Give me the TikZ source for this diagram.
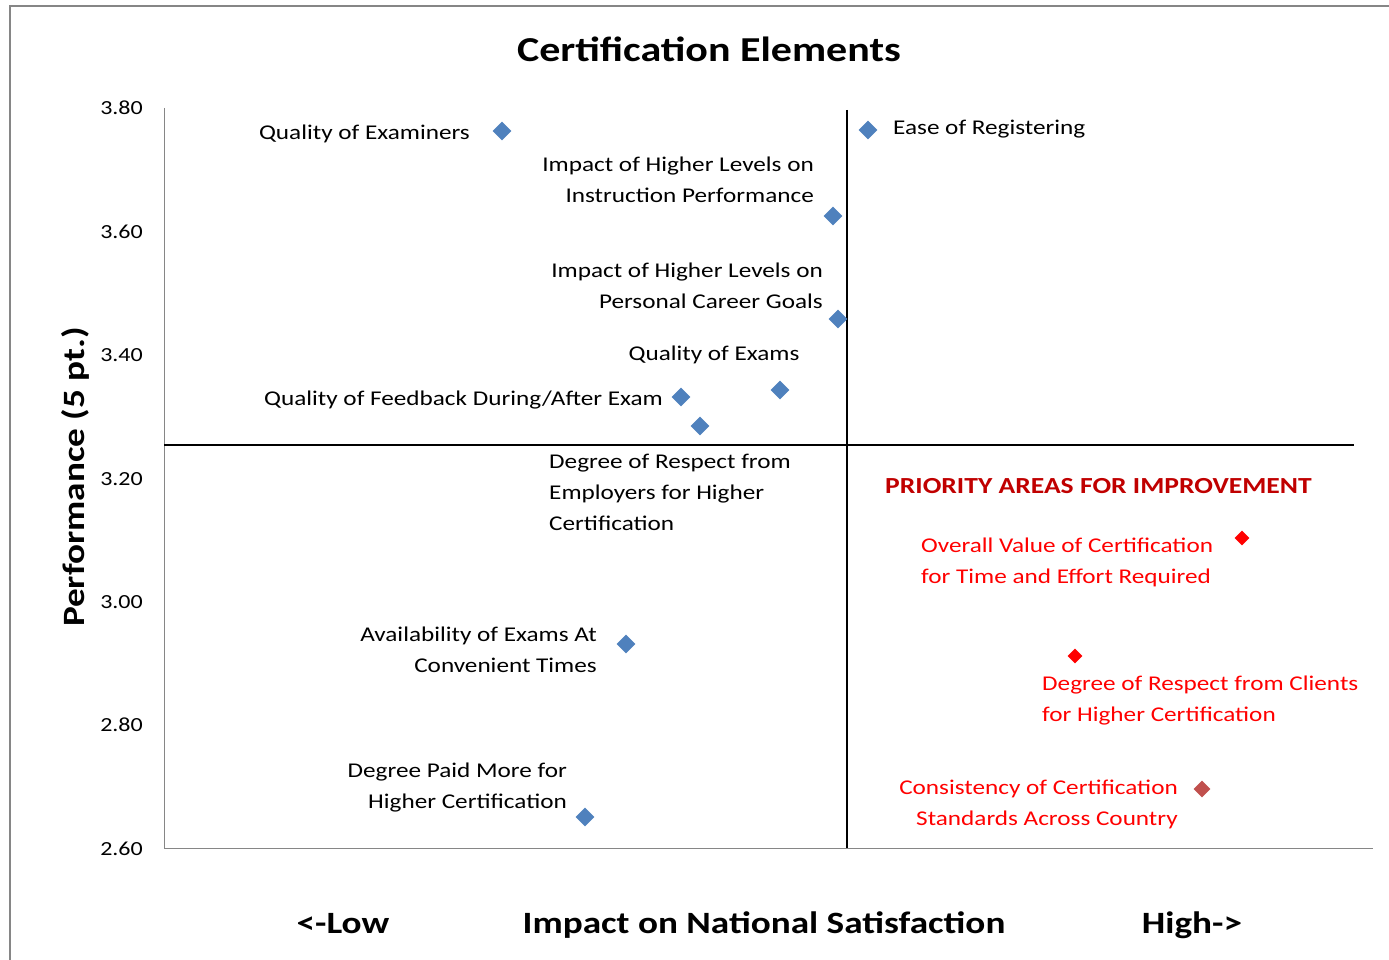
\documentclass[tikz,border=0pt]{standalone}
\usepackage{fontspec}
\setmainfont{Carlito}[FakeStretch=1.2]
\usetikzlibrary{shapes.geometric,positioning}
\definecolor{ptblue}{HTML}{4F81BD}
\definecolor{ptred}{HTML}{FF0000}
\definecolor{ptbrown}{HTML}{C0504D}
\definecolor{prio}{HTML}{C00000}
\definecolor{axgray}{HTML}{868686}

\tikzset{
  dia/.style={diamond,fill=ptblue,inner sep=0pt,minimum size=19pt},
  reddia/.style={dia,fill=ptred,minimum size=15pt},
  lbl/.style={font=\fontsize{21}{31}\selectfont,inner sep=0pt},
  tick/.style={font=\fontsize{20}{24}\selectfont,inner sep=0pt,anchor=base east},
  big/.style={font=\fontsize{31}{36}\selectfont\bfseries,inner sep=0pt}
}

\begin{document}
\begin{tikzpicture}[x=1pt,y=-1pt]
\useasboundingbox (0,0) rectangle (1389,960);
% frame
\draw[axgray,line width=1.6pt] (10,960) -- (10,6) -- (1389,6);
% axes
\draw[axgray,line width=1pt] (164,108) -- (164,848) -- (1373,848);
\foreach \v/\y in {3.80/108,3.60/231,3.40/354,3.20/478,3.00/601,2.80/724,2.60/848}
  \node[tick] at (143,\y+7) {\v};
% quadrant lines
\draw[line width=1.4pt] (847,110) -- (847,848);
\draw[line width=1.4pt] (164,445) -- (1354,445);
% titles
\node[big,font=\fontsize{35}{40}\selectfont\bfseries,anchor=base] (title) at (709,62) {Certification Elements};
\node[big,font=\fontsize{31}{36}\selectfont\bfseries,rotate=90] (ylab) at (75,477) {Performance (5 pt.)};
\node[big,anchor=base] (low) at (343,933) {<-Low};
\node[big,anchor=base] (xlab) at (764,933) {Impact on National Satisfaction};
\node[big,anchor=base] (high) at (1192,933) {High->};
% points
\node[dia] (exmr) at (502,131) {};
\node[dia] (reg) at (868,130) {};
\node[dia] (instr) at (833,216) {};
\node[dia] (career) at (838,319) {};
\node[dia] (exams) at (780,390) {};
\node[dia] (feedb) at (681,397) {};
\node[dia] (empl) at (700,426) {};
\node[dia] (avail) at (626,644) {};
\node[dia] (paid) at (585,817) {};
\node[reddia] (value) at (1242,538) {};
\node[reddia] (clients) at (1075,656) {};
\node[reddia,fill=ptbrown,minimum size=17pt] (consist) at (1202,789) {};
% labels (base = last line)
\node[lbl,anchor=base east] (exmrl) at (470,140) {Quality of Examiners};
\node[lbl,anchor=base west] (regl) at (893,135) {Ease of Registering};
\node[lbl,anchor=base east,align=right] (instrl) at (814,203) {Impact of Higher Levels on\\Instruction Performance};
\node[lbl,anchor=base east,align=right] (careerl) at (823,308) {Impact of Higher Levels on\\Personal Career Goals};
\node[lbl,anchor=base] (examsl) at (714,360) {Quality of Exams};
\node[lbl,anchor=base east] (feedbl) at (663,405) {Quality of Feedback During/After Exam};
\node[lbl,anchor=base west,align=left] (empll) at (549,530) {Degree of Respect from\\Employers for Higher\\Certification};
\node[lbl,anchor=base east,align=right] (availl) at (597,672) {Availability of Exams At\\Convenient Times};
\node[lbl,anchor=base east,align=right] (paidl) at (567,808) {Degree Paid More for\\Higher Certification};
\node[lbl,anchor=base west,text=prio,font=\fontsize{23}{31}\selectfont\bfseries] (priol) at (885,493) {PRIORITY AREAS FOR IMPROVEMENT};
\node[lbl,anchor=base west,align=left,text=ptred] (valuel) at (921,583) {Overall Value of Certification\\for Time and Effort Required};
\node[lbl,anchor=base west,align=left,text=ptred] (clientsl) at (1042,721) {Degree of Respect from Clients\\for Higher Certification};
\node[lbl,anchor=base east,align=right,text=ptred] (consistl) at (1178,825) {Consistency of Certification\\Standards Across Country};
\end{tikzpicture}
\end{document}
